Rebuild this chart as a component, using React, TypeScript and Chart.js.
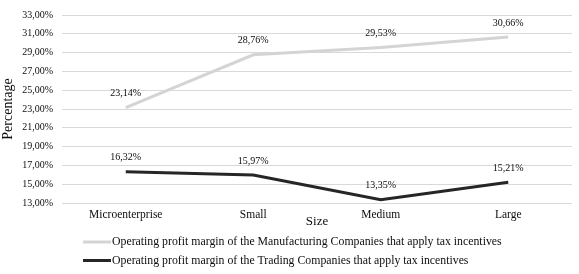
import React, { useEffect, useRef } from 'react';
import { Chart, registerables } from 'chart.js';

Chart.register(...registerables);

const categories = ['Microenterprise', 'Small', 'Medium', 'Large'];
const manufacturing = [23.14, 28.76, 29.53, 30.66];
const trading = [16.32, 15.97, 13.35, 15.21];
const seriesNames = [
  'Operating profit margin of the Manufacturing Companies that apply tax incentives',
  'Operating profit margin of the Trading Companies that apply tax incentives',
];
const seriesColors = ['#d4d4d4', '#262626'];
const yMin = 13;
const yMax = 33;
const yStep = 2;
const xTitle = 'Size';
const yTitle = 'Percentage';

const FONT = '"Liberation Serif", "Times New Roman", serif';
const TEXT = '#0d0d0d';

const fmt = (v: number) => v.toFixed(2).replace('.', ',') + '%';

const labelsPlugin = {
  id: 'valueLabels',
  afterDatasetsDraw(chart: any) {
    const ctx = chart.ctx;
    ctx.save();
    ctx.font = `10px ${FONT}`;
    ctx.fillStyle = TEXT;
    ctx.textAlign = 'center';
    ctx.textBaseline = 'middle';
    chart.data.datasets.forEach((ds: any, i: number) => {
      const meta = chart.getDatasetMeta(i);
      meta.data.forEach((pt: any, j: number) => {
        ctx.fillText(fmt(ds.data[j]), pt.x, pt.y - 14);
      });
    });
    ctx.restore();
  },
};

const extrasPlugin = {
  id: 'extras',
  afterDraw(chart: any) {
    const ctx = chart.ctx;
    const area = chart.chartArea;
    ctx.save();
    // x-axis title
    ctx.font = `13px ${FONT}`;
    ctx.fillStyle = TEXT;
    ctx.textAlign = 'center';
    ctx.textBaseline = 'middle';
    ctx.fillText(xTitle, (area.left + area.right) / 2, area.bottom + 19);
    // legend
    ctx.font = `11.8px ${FONT}`;
    ctx.textAlign = 'left';
    chart.data.datasets.forEach((ds: any, i: number) => {
      const y = area.bottom + 39 + i * 18.5;
      const x0 = area.left + 21;
      ctx.strokeStyle = ds.borderColor;
      ctx.lineWidth = 3;
      ctx.beginPath();
      ctx.moveTo(x0, y);
      ctx.lineTo(x0 + 28, y);
      ctx.stroke();
      ctx.fillStyle = TEXT;
      ctx.fillText(ds.label, x0 + 29, y);
    });
    ctx.restore();
  },
};

export default function App() {
  const ref = useRef<HTMLCanvasElement>(null);
  useEffect(() => {
    document.body.style.margin = '0';
    const chart = new Chart(ref.current as HTMLCanvasElement, {
      type: 'line',
      data: {
        labels: categories,
        datasets: [
          {
            label: seriesNames[0],
            data: manufacturing,
            borderColor: seriesColors[0],
            backgroundColor: seriesColors[0],
            borderWidth: 3,
            pointRadius: 0,
            tension: 0,
          },
          {
            label: seriesNames[1],
            data: trading,
            borderColor: seriesColors[1],
            backgroundColor: seriesColors[1],
            borderWidth: 3,
            pointRadius: 0,
            tension: 0,
          },
        ],
      },
      options: {
        responsive: false,
        animation: false,
        layout: { padding: { top: 14, right: 7, left: 0, bottom: 0 } },
        plugins: { legend: { display: false }, tooltip: { enabled: false } },
        scales: {
          x: {
            offset: true,
            grid: { display: false, drawTicks: false },
            border: { display: false },
            ticks: { color: TEXT, font: { family: FONT, size: 11.5 }, padding: 5, maxRotation: 0 },
            afterFit: (s: any) => {
              s.height = 71;
            },
          },
          y: {
            min: yMin,
            max: yMax,
            grid: { color: '#d9d9d9', lineWidth: 1, drawTicks: false },
            border: { display: false },
            ticks: {
              stepSize: yStep,
              color: TEXT,
              font: { family: FONT, size: 10 },
              padding: 9,
              callback: (v: any) => fmt(Number(v)),
            },
            title: {
              display: true,
              text: yTitle,
              color: TEXT,
              font: { family: FONT, size: 14 },
              padding: 0,
            },
            afterFit: (s: any) => {
              s.width = 62;
            },
          },
        },
      },
      plugins: [labelsPlugin, extrasPlugin],
    });
    return () => chart.destroy();
  }, []);
  return <canvas ref={ref} width={579} height={274} style={{ display: 'block' }} />;
}
